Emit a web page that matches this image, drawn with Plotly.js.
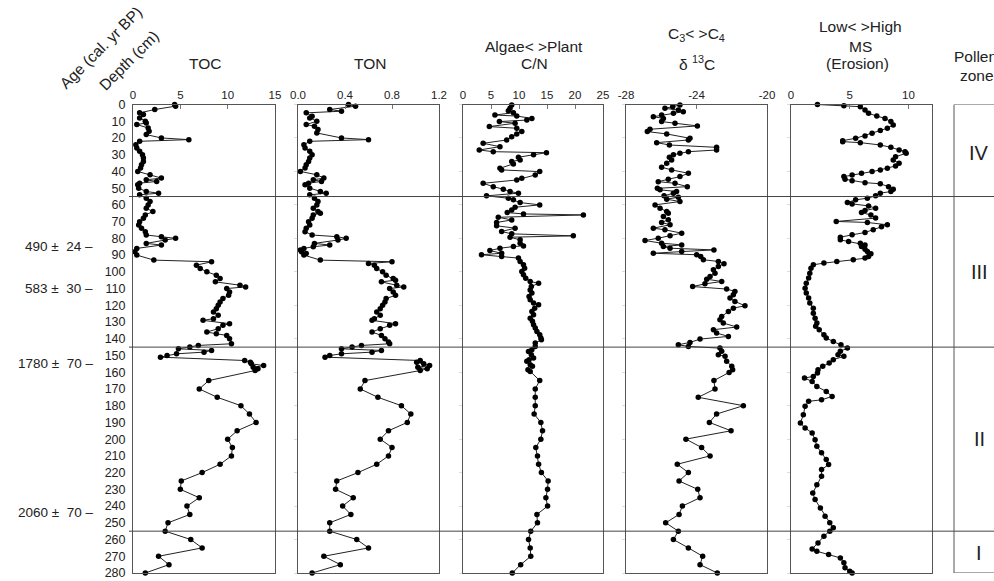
<!DOCTYPE html>
<html><head><meta charset="utf-8">
<script src="https://cdn.plot.ly/plotly-3.0.1.min.js"></script>
<style>html,body{margin:0;padding:0;background:#fff}</style>
</head><body>
<div id="chart" style="width:994px;height:581px"></div>
<script>
// ---------- DATA ----------
const tocDepth = [0,1,3,5,6,8,10,11,12,14,16,18,20,21,22,24,26,28,30,32,34,36,38,40,42,44,45,46,47,48,50,52,53,54,56,58,60,62,64,66,68,70,72,74,76,78,79,80,81,83,84,86,88,90,93,94,96,98,100,102,104,106,108,109,110,112,114,116,118,120,122,124,126,128,129,131,132,134,136,137,138,140,143,144,145,146,147,148,149,150,151,153,154,155,156,157,158,159,165,170,175,180,185,190,195,200,205,210,215,220,225,230,235,240,245,250,255,260,265,270,275,280];
const tocValue = [4.4,4.5,2.3,0.7,1.1,0.7,1.3,1.4,0.4,1.6,1.7,1.4,3.0,5.9,0.7,0.3,0.4,0.7,1.0,1.1,1.1,0.9,0.8,0.5,1.8,3.0,1.4,2.5,0.7,0.5,0.6,1.4,2.7,0.7,1.4,1.8,1.6,1.4,2.1,1.3,1.1,0.7,0.6,0.9,1.3,1.4,3.0,4.5,3.4,1.4,3.0,0.4,0.2,0.4,2.2,8.3,6.7,7.1,7.8,8.8,9.2,8.7,11.3,11.9,9.9,10.2,10.1,9.5,9.2,9.0,8.8,8.5,9.0,8.5,7.4,10.2,9.5,9.0,7.8,8.8,9.9,10.2,10.4,6.9,6.0,4.8,8.3,7.5,4.6,3.6,2.9,11.8,12.4,12.5,13.8,12.7,13.2,12.9,8.0,7.0,8.9,11.4,12.3,13.0,11.0,10.0,10.5,10.4,9.2,7.3,5.1,5.0,7.0,5.7,6.0,3.7,3.4,6.1,7.3,2.7,3.8,1.3];

const tonDepth = [0,1,3,4,5,7,8,10,12,13,15,17,20,21,22,24,26,28,30,32,34,36,38,40,42,44,45,46,47,48,50,52,53,54,56,58,60,62,64,65,66,68,70,72,74,76,78,79,80,81,83,84,85,86,87,88,89,90,93,94,95,96,98,100,102,104,105,106,108,109,110,112,114,116,118,120,122,124,126,128,129,131,132,134,136,138,140,142,143,144,145,146,147,148,149,150,151,153,154,155,156,157,158,159,165,170,175,180,185,190,195,200,205,210,215,220,225,230,235,240,245,250,255,260,265,270,275,280];
const tonValue = [0.43,0.49,0.27,0.37,0.07,0.12,0.10,0.16,0.07,0.14,0.17,0.16,0.37,0.60,0.10,0.05,0.06,0.10,0.12,0.10,0.09,0.07,0.06,0.02,0.16,0.22,0.13,0.20,0.09,0.06,0.10,0.19,0.24,0.10,0.14,0.17,0.16,0.13,0.17,0.19,0.13,0.12,0.09,0.10,0.07,0.06,0.12,0.33,0.41,0.34,0.14,0.27,0.13,0.05,0.02,0.03,0.07,0.05,0.19,0.80,0.60,0.65,0.67,0.72,0.75,0.81,0.83,0.71,0.84,0.90,0.78,0.81,0.83,0.75,0.74,0.72,0.70,0.67,0.70,0.65,0.63,0.83,0.78,0.70,0.63,0.71,0.74,0.77,0.78,0.54,0.46,0.37,0.71,0.63,0.37,0.27,0.23,1.04,1.01,1.07,1.12,1.02,1.10,1.04,0.57,0.53,0.68,0.88,0.96,0.93,0.77,0.70,0.80,0.77,0.67,0.51,0.33,0.32,0.47,0.38,0.45,0.27,0.27,0.50,0.60,0.22,0.36,0.12];

const cnDepth = [0.3,2.3,3.7,4.9,6.3,6.9,8.3,9.3,10.2,11.2,13.2,14.2,16.2,17.6,19.2,21.2,23.2,25.2,27.2,28.2,28.8,30.1,31.5,33.1,34.1,35.5,38.1,39.1,40.1,42.1,44.1,45.1,47.1,49.1,50.6,52,53,54.6,56,57,58.6,60,61.4,63,64.6,65.4,66,67.4,69,70.5,72.5,73.9,75.9,77.3,78.5,79.3,80.9,82.9,84.5,84.9,85.9,87.3,88.9,89.8,90.8,91.8,93.8,95.8,97.8,99.8,101.8,103.8,105.8,106.8,108.8,110.8,112.7,114.7,116.7,118.7,119.7,121.7,123.7,125.7,127.7,129.6,131.6,133.6,135.6,137.6,139.6,140.6,142.6,144.6,146.6,147.6,149.5,151.5,152.5,153.5,155.5,156.5,158.5,159.5,165,170,175,180,185,190,195,200,205,210,215,220,225,230,235,240,245,250,255,260,265,270,275,280];
const cnValue = [8.7,8.4,8.1,9.0,5.7,9.6,12.3,11.4,6.5,9.3,4.7,9.6,10.5,9.6,8.7,7.8,3.6,6.6,2.9,5.4,14.9,12.6,9.9,10.2,8.7,9.0,6.6,6.9,13.7,12.9,10.5,9.6,3.6,5.4,7.2,8.4,9.9,4.2,8.1,9.0,10.2,13.7,9.3,8.7,7.9,10.8,21.5,6.3,8.7,6.0,6.0,9.3,6.9,8.7,19.7,8.4,10.2,10.2,10.8,9.0,6.6,4.8,6.9,3.3,6.9,9.9,10.2,10.8,11.0,10.5,10.8,11.2,12.0,13.5,12.2,12.0,12.3,11.8,12.0,12.6,13.5,12.8,12.3,12.6,12.0,12.4,12.6,12.9,13.2,13.7,13.9,14.0,12.9,12.9,12.3,11.7,12.2,12.6,11.8,11.4,12.0,12.4,11.6,12.0,13.7,12.9,12.9,12.9,12.7,13.9,14.2,13.9,13.0,13.3,13.5,14.0,15.2,15.1,14.8,15.1,13.2,13.3,12.1,11.7,12.0,12.1,10.3,8.8];

const d13cDepth = [0.3,1.3,2.3,3.3,4.3,5.3,6.3,7.3,8.3,10.2,11.2,12.8,14.8,16.2,17.6,20.2,21.2,22.8,24.2,25.6,27.2,28.2,29.2,30.1,31.5,33.1,35.1,37.5,39.1,41.1,43.1,44.7,46.1,47.1,49.1,50.1,51.0,52.0,53.0,54.6,55.4,56.6,58.0,60.0,62.0,64.0,65.0,67.0,68.9,70.5,71.9,73.9,74.9,76.9,78.5,79.9,81.3,82.9,83.9,84.9,85.9,86.9,87.9,88.9,89.8,90.8,92.8,93.8,95.2,96.8,98.8,100.8,102.8,104.4,105.8,107.2,108.8,110.3,111.7,113.7,115.7,117.7,120.3,121.7,123.7,126.7,128.7,130.6,133.0,134.6,136.6,138.6,140.2,142.2,143.6,144.6,145.6,147.5,149.5,150.5,153.4,156.5,158.6,160.1,165,170,175,180,185,190,195,200,205,210,215,220,225,230,235,240,245,250,255,260,265,270,275,280];
const d13cValue = [-24.94,-25.35,-25.79,-25.03,-24.75,-25.31,-25.98,-26.45,-25.88,-25.98,-25.22,-23.95,-26.64,-26.79,-25.69,-24.37,-24.46,-26.26,-25.54,-22.86,-22.86,-24.46,-24.94,-25.31,-25.54,-25.41,-25.69,-25.98,-25.41,-24.46,-24.94,-25.60,-26.17,-25.22,-24.52,-26.22,-26.07,-25.13,-25.31,-25.84,-25.03,-25.69,-24.94,-26.35,-26.07,-25.69,-25.60,-25.88,-25.60,-25.98,-25.50,-26.45,-25.79,-24.84,-25.50,-26.17,-26.92,-25.98,-24.84,-25.88,-25.50,-23.01,-24.84,-26.45,-23.99,-23.76,-23.61,-22.76,-22.44,-22.76,-23.04,-22.95,-23.23,-23.42,-22.57,-23.52,-24.22,-22.29,-21.82,-21.91,-22.10,-21.82,-21.25,-21.91,-22.19,-22.57,-22.67,-22.48,-21.72,-23.04,-22.86,-22.19,-23.80,-24.37,-25.03,-24.46,-22.67,-22.57,-22.76,-22.38,-22.29,-22.00,-21.95,-22.15,-23.01,-22.95,-23.90,-21.34,-22.86,-23.27,-22.04,-24.60,-23.71,-23.23,-25.09,-24.46,-24.99,-23.93,-23.80,-24.80,-24.99,-25.75,-25.03,-25.31,-24.46,-23.65,-23.80,-22.82];

const msDepth = [0,0.7,1.3,3.3,5.3,6.9,8.3,10.2,12.2,14.2,15.6,17.2,18.8,20.2,21.6,22.2,22.8,24.2,25.6,27.2,28.2,29.2,31.2,33.1,35.1,36.7,38.1,39.1,40.1,41.1,42.1,43.1,44.7,45.5,46.7,47.4,49.1,50.6,52.0,53.0,54.6,56.0,57.0,58.6,59.4,60.6,62.0,63.4,64.6,66.0,67.9,69.9,70.5,71.9,73.0,74.9,76.5,77.9,79.3,80.9,81.9,82.9,83.9,84.9,86.5,87.9,89.2,90.8,91.8,92.8,93.8,94.8,95.8,97.8,100.8,103.7,106.8,109.8,112.7,115.7,118.7,121.7,124.7,127.7,130.6,132.6,134.6,137.6,139.6,141.6,143.6,145.6,147.5,149.5,150.5,152.5,154.5,156.5,158.5,160.5,162.5,163.5,165.5,168.5,171.5,174.5,176.5,177.4,180.4,185.4,190.4,193.3,196.3,200.3,204.3,208.2,212.2,215.2,218.2,222.2,227.2,232.2,236.1,241.1,246.1,250.0,253.0,255.0,258.0,262.0,265.6,267.0,268.9,271.0,273.9,276.9,279.0,280.0];
const msValue = [2.25,4.5,5.9,6.3,6.6,7.3,8.0,8.5,8.7,8.2,7.6,6.9,6.3,5.5,4.4,4.4,5.9,7.6,8.5,9.2,9.7,9.8,8.9,8.7,9.2,8.9,8.2,7.6,6.9,6.0,5.2,4.5,4.6,5.2,6.3,7.6,8.3,8.7,8.5,7.6,7.2,6.5,5.5,4.8,5.2,6.6,7.2,6.3,6.0,6.8,7.2,3.85,6.5,8.2,7.7,7.0,6.3,5.2,4.2,4.2,4.9,5.9,6.3,6.0,6.3,6.5,6.8,6.6,6.3,5.3,3.9,2.8,1.9,1.7,1.6,1.5,1.3,1.2,1.3,1.5,1.6,1.9,1.9,2.05,2.2,2.1,2.4,2.8,3.0,3.6,4.25,4.8,4.2,4.0,4.5,3.6,3.25,2.7,2.3,2.25,1.9,1.15,1.8,2.2,3.0,3.5,2.6,1.5,1.2,1.05,0.8,1.2,1.8,2.05,2.2,2.6,3.0,3.2,2.6,2.6,2.2,1.85,2.05,2.5,2.9,3.3,3.6,3.3,2.8,2.3,1.8,2.2,3.2,4.2,4.5,4.6,5.0,5.2];

const depthTicks = [0,10,20,30,40,50,60,70,80,90,100,110,120,130,140,150,160,170,180,190,200,210,220,230,240,250,260,270,280];
const zoneBounds = [55,145,255];
const zoneLabels = ['IV','III','II','I'];
const zoneLabelDepth = [29,100,200,268];
const ageLabels = ['490 \u00b1&nbsp; 24 \u2013','583 \u00b1&nbsp; 30 \u2013','1780 \u00b1&nbsp; 70 \u2013','2060 \u00b1&nbsp; 70 \u2013'];
const ageDepth = [85,110,155,244];

// ---------- LAYOUT HELPERS ----------
const W = 994, H = 581;
const px = x => x / W;
const py = y => 1 - y / H;
const FONT = 'Liberation Sans, Arial, Helvetica, sans-serif';
const TXT = '#222';
const yDom = [py(573), py(104.5)];

const panels = [
  {d: tocDepth, v: tocValue, x0: 133, x1: 275, range: [0,15], tv: [0,5,10,15], tt: ['0','5','10','15']},
  {d: tonDepth, v: tonValue, x0: 298, x1: 439, range: [0,1.2], tv: [0,0.4,0.8,1.2], tt: ['0.0','0.4','0.8','1.2']},
  {d: cnDepth, v: cnValue, x0: 463, x1: 603, range: [0,25], tv: [0,5,10,15,20,25], tt: ['0','5','10','15','20','25']},
  {d: d13cDepth, v: d13cValue, x0: 626, x1: 767, range: [-28,-20], tv: [-28,-24,-20], tt: ['-28','-24','-20']},
  {d: msDepth, v: msValue, x0: 791, x1: 932, range: [0,12], tv: [0,5,10], tt: ['0','5','10']}
];

const traces = [];
const layout = {
  width: W, height: H,
  margin: {l:0, r:0, t:0, b:0},
  paper_bgcolor: '#fff', plot_bgcolor: 'rgba(0,0,0,0)',
  showlegend: false,
  font: {family: FONT, color: TXT},
  shapes: [], annotations: []
};

panels.forEach((p, i) => {
  const n = i === 0 ? '' : String(i + 1);
  traces.push({
    type: 'scatter', mode: 'lines+markers',
    x: p.v, y: p.d,
    xaxis: 'x' + n, yaxis: 'y' + n,
    line: {color: '#222', width: 1},
    marker: {color: '#000', size: 5.5},
    cliponaxis: false, hoverinfo: 'skip'
  });
  layout['xaxis' + n] = {
    domain: [px(p.x0), px(p.x1)], range: p.range, anchor: 'y' + n, side: 'top',
    showline: true, mirror: true, linecolor: '#555', linewidth: 1,
    showgrid: false, zeroline: false,
    tickmode: 'array', tickvals: p.tv, ticktext: p.tt,
    ticks: 'inside', ticklen: 4, tickcolor: '#777',
    tickfont: {family: FONT, size: 11.5, color: TXT}
  };
  layout['yaxis' + n] = {
    domain: yDom, range: [280, 0], anchor: 'x' + n,
    showline: true, mirror: true, linecolor: '#555', linewidth: 1,
    showgrid: false, zeroline: false,
    tickmode: 'array', tickvals: i === 0 ? depthTicks : depthTicks.filter(t => t % 20 === 0),
    showticklabels: i === 0,
    ticks: i === 0 ? '' : 'outside', ticklen: 3, tickcolor: '#ddd',
    ticklabelstandoff: 4,
    tickfont: {family: FONT, size: 12.5, color: TXT}
  };
});

// zone boundary lines
zoneBounds.forEach(b => layout.shapes.push({
  type: 'line', xref: 'paper', yref: 'y', x0: px(129), x1: 1.01, y0: b, y1: b,
  line: {color: '#444', width: 1}, layer: 'above'
}));
// pollen zone box
layout.shapes.push({
  type: 'rect', xref: 'paper', yref: 'y', x0: px(954), x1: 1.05, y0: 0, y1: 280,
  line: {color: '#555', width: 1}, fillcolor: 'rgba(0,0,0,0)'
});

const ann = (x, y, text, size, opts) => layout.annotations.push(Object.assign({
  xref: 'paper', yref: 'paper', x: px(x), y: py(y), text: text, showarrow: false,
  xanchor: 'center', yanchor: 'middle', font: {family: FONT, size: size, color: TXT}
}, opts || {}));

// zone labels
zoneLabels.forEach((t, i) => layout.annotations.push({
  xref: 'paper', yref: 'y', x: px(979), y: zoneLabelDepth[i], text: t, showarrow: false,
  xanchor: 'center', yanchor: 'middle', font: {family: FONT, size: 20, color: TXT}
}));
// age labels
ageLabels.forEach((t, i) => layout.annotations.push({
  xref: 'paper', yref: 'y', x: px(95), y: ageDepth[i], text: t, showarrow: false,
  xanchor: 'right', yanchor: 'middle', font: {family: FONT, size: 13.5, color: TXT}
}));

// headers
ann(101, 48, 'Age (cal. yr BP)', 15.5, {textangle: -45});
ann(129, 61, 'Depth (cm)', 15.5, {textangle: -45});
ann(205, 63, 'TOC', 15.5);
ann(370, 63, 'TON', 15.5);
ann(534, 46, 'Algae&lt; &gt;Plant', 15.5);
ann(534, 63, 'C/N', 15.5);
ann(696, 34, 'C<sub>3</sub>&lt; &gt;C<sub>4</sub>', 15.5);
ann(697, 63, '\u03b4 <sup>13</sup>C', 15.5);
ann(860, 27, 'Low&lt; &gt;High', 15.5);
ann(860, 46, 'MS', 15.5);
ann(857, 64, '(Erosion)', 15.5);
ann(952, 57, 'Pollen', 15.5, {xanchor: 'left'});
ann(958, 75, 'zone', 15.5, {xanchor: 'left'});

Plotly.newPlot('chart', traces, layout, {staticPlot: true, displayModeBar: false});
</script>
</body></html>
